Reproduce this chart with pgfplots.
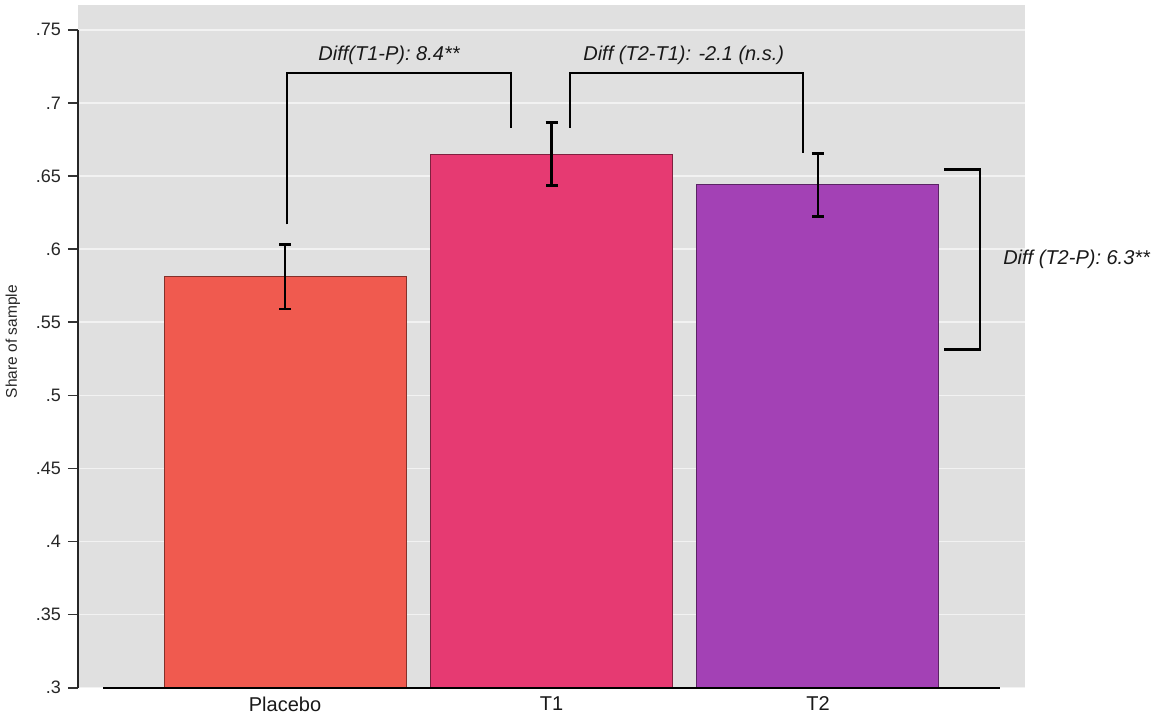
\documentclass[border=0pt]{standalone}
\usepackage{pgfplots}
\pgfplotsset{compat=1.18}
\usepackage{fontspec}
\setmainfont{Liberation Sans}
\definecolor{bg}{RGB}{224,224,224}
\definecolor{gridc}{RGB}{242,242,242}
\definecolor{cP}{RGB}{240,90,79}
\definecolor{cT1}{RGB}{230,58,114}
\definecolor{cT2}{RGB}{163,65,181}
\begin{document}
\begin{tikzpicture}
\useasboundingbox (-39pt,-15.65pt) rectangle (538.5pt,343.85pt);
\begin{axis}[
  at={(0,0)}, anchor=south west, scale only axis,
  width=473.5pt, height=341.35pt,
  xmin=-0.777, xmax=2.777, ymin=0.3, ymax=0.767,
  axis background/.style={fill=bg},
  axis line style={draw=none},
  ybar, bar width=0.908, bar shift=0pt,
  xtick={0,1,2}, xticklabels={Placebo,T1,T2},
  xtick style={draw=none},
  xticklabel style={font=\fontsize{10pt}{12pt}\selectfont, text=black!90, yshift=4pt},
  ytick={0.3,0.35,0.4,0.45,0.5,0.55,0.6,0.65,0.7,0.75},
  yticklabels={.3,.35,.4,.45,.5,.55,.6,.65,.7,.75},
  ytick pos=left,
  tick align=outside,
  major tick length=5pt,
  ytick style={draw=black!80, line width=0.8pt},
  yticklabel style={font=\fontsize{9pt}{11pt}\selectfont, text=black!85},
  ymajorgrids, grid style={draw=gridc, line width=0.75pt},
  ylabel={Share of sample},
  ylabel style={at={(rel axis cs:-0.0687,0.507)}, anchor=center, font=\fontsize{7.75pt}{9pt}\selectfont, text=black!85},
  clip mode=individual,
]
\addplot[fill=cP, draw=cP!55!black, line width=0.5pt,
  error bars/.cd, y dir=both, y explicit,
  error bar style={line width=1.3pt, black},
  error mark options={rotate=90, line width=1.3pt, mark size=3pt, black}]
  coordinates {(0,0.581) +- (0,0.022)};
\addplot[fill=cT1, draw=cT1!55!black, line width=0.5pt,
  error bars/.cd, y dir=both, y explicit,
  error bar style={line width=1.3pt, black},
  error mark options={rotate=90, line width=1.3pt, mark size=3pt, black}]
  coordinates {(1,0.665) +- (0,0.0215)};
\addplot[fill=cT2, draw=cT2!55!black, line width=0.5pt,
  error bars/.cd, y dir=both, y explicit,
  error bar style={line width=1.3pt, black},
  error mark options={rotate=90, line width=1.3pt, mark size=3pt, black}]
  coordinates {(2,0.644) +- (0,0.0215)};
% axis lines
\draw[line width=1pt, black!85] (rel axis cs:0,0) -- (axis cs:-0.777,0.75);
\draw[line width=1pt, black] (axis cs:-0.683,0.3) -- (axis cs:2.683,0.3);
% brackets
\draw[line width=1.3pt, black] (axis cs:0.0075,0.617) -- (axis cs:0.0075,0.7205) -- (axis cs:0.848,0.7205) -- (axis cs:0.848,0.683);
\draw[line width=1.3pt, black] (axis cs:1.069,0.683) -- (axis cs:1.069,0.7205) -- (axis cs:1.944,0.7205) -- (axis cs:1.944,0.666);
\draw[line width=1.3pt, black] (axis cs:2.473,0.6544) -- (axis cs:2.608,0.6544) -- (axis cs:2.608,0.5312) -- (axis cs:2.473,0.5312);
\node[anchor=base west, inner sep=0pt, font=\itshape\fontsize{10pt}{12pt}\selectfont, text=black!90] at (axis cs:0.124,0.729) {Diff(T1-P): 8.4**};
\node[anchor=base west, inner sep=0pt, font=\itshape\fontsize{10pt}{12pt}\selectfont, text=black!90] at (axis cs:1.118,0.729) {Diff (T2-T1): -2.1 (n.s.)};
\node[anchor=west, inner sep=0pt, font=\itshape\fontsize{10pt}{12pt}\selectfont, text=black!90] at (axis cs:2.694,0.5928) {Diff (T2-P): 6.3**};
\end{axis}
\end{tikzpicture}
\end{document}
